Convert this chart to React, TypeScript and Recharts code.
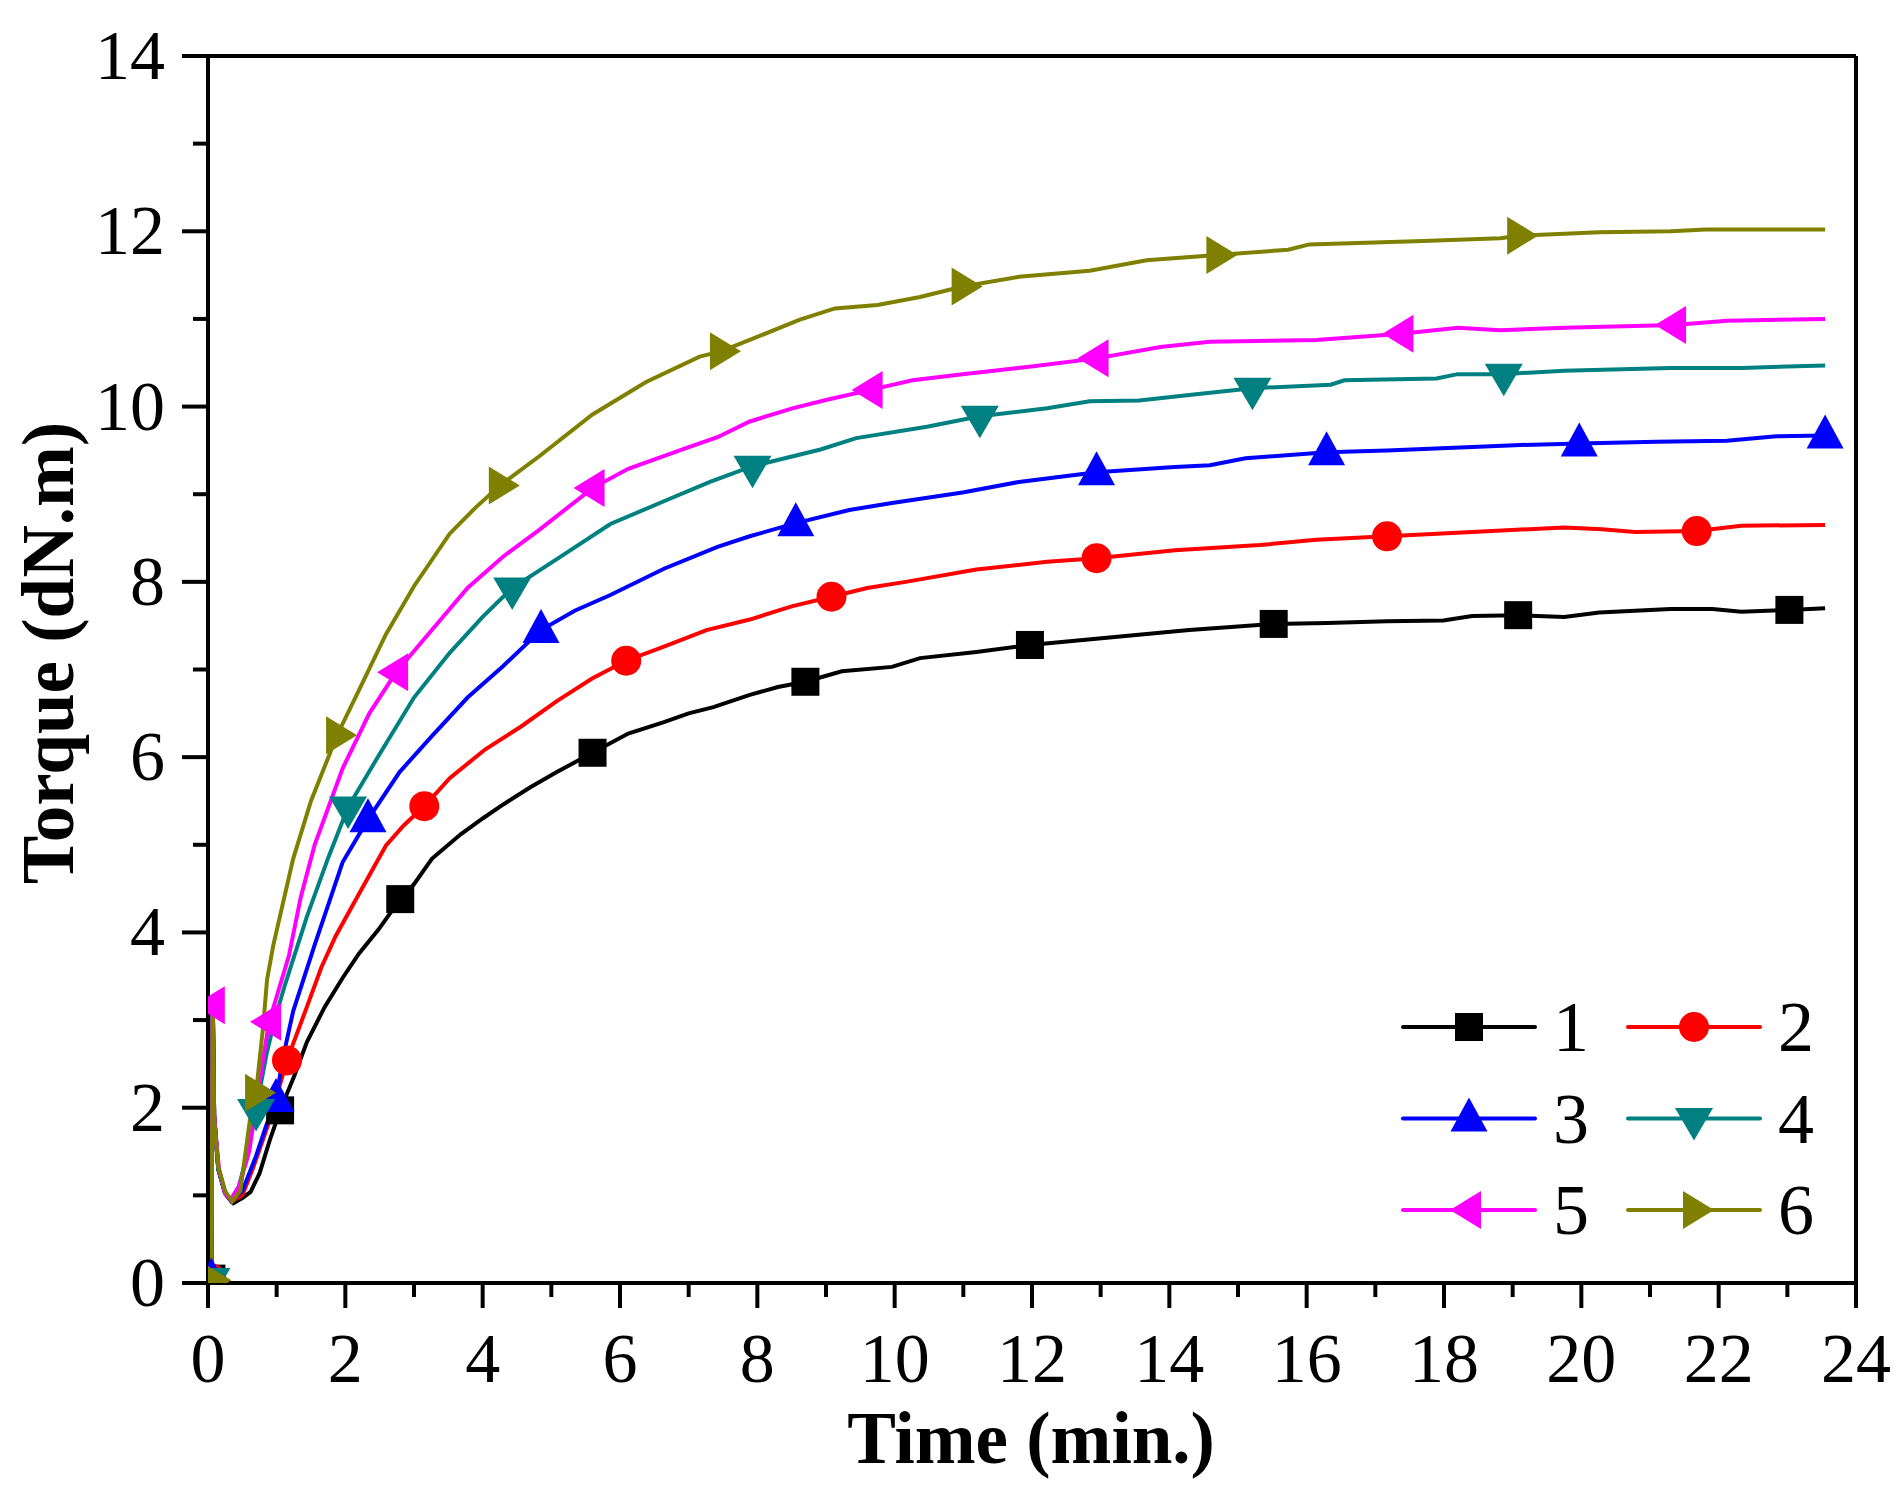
import React from 'react';
import { LineChart, Line, XAxis, YAxis, ReferenceLine, Customized } from 'recharts';

type P = [number, number, number?];

const FONT = "'Liberation Serif', 'Times New Roman', serif";

const xTicks = [0, 1, 2, 3, 4, 5, 6, 7, 8, 9, 10, 11, 12, 13, 14, 15, 16, 17, 18, 19, 20, 21, 22, 23, 24];
const yTicks = [0, 1, 2, 3, 4, 5, 6, 7, 8, 9, 10, 11, 12, 13, 14];
const xTitle = 'Time (min.)';
const yTitle = 'Torque (dN.m)';

// [time, torque, marker?]
const series1: P[] = [
  [0.05, 0.05, 1], [0.07, 3.2], [0.09, 1.9], [0.15, 1.3], [0.25, 1.02], [0.37, 0.91], [0.5, 0.97], [0.62, 1.04],
  [0.75, 1.25], [0.9, 1.63], [1.05, 1.97, 1], [1.25, 2.35], [1.44, 2.75], [1.7, 3.15], [1.96, 3.48], [2.2, 3.76],
  [2.48, 4.03], [2.8, 4.38, 1], [3.0, 4.55], [3.26, 4.84], [3.68, 5.12], [4.0, 5.3], [4.3, 5.46], [4.7, 5.66],
  [5.08, 5.83], [5.6, 6.05, 1], [6.12, 6.27], [6.64, 6.4], [7.0, 6.5], [7.36, 6.57], [7.89, 6.71], [8.3, 6.8],
  [8.7, 6.86, 1], [9.23, 6.98], [9.96, 7.03], [10.37, 7.13], [11.19, 7.2], [11.97, 7.28, 1], [13.05, 7.36],
  [14.29, 7.45], [15.0, 7.49], [15.52, 7.52, 1], [16.3, 7.53], [17.17, 7.55], [17.99, 7.56], [18.41, 7.61],
  [19.08, 7.62, 1], [19.75, 7.6], [20.26, 7.65], [21.3, 7.69], [21.91, 7.69], [22.33, 7.66], [23.03, 7.68, 1],
  [23.55, 7.7],
];

const series2: P[] = [
  [0.05, 0.05, 1], [0.07, 3.2], [0.09, 1.9], [0.15, 1.3], [0.25, 1.02], [0.34, 0.93], [0.5, 1.0], [0.66, 1.32],
  [0.9, 1.86], [1.15, 2.54, 1], [1.44, 3.15], [1.65, 3.6], [1.86, 3.96], [2.22, 4.47], [2.59, 4.99], [2.85, 5.22],
  [3.15, 5.44, 1], [3.52, 5.76], [4.04, 6.09], [4.56, 6.35], [5.08, 6.64], [5.6, 6.9], [6.09, 7.1, 1], [6.64, 7.26],
  [7.26, 7.45], [7.89, 7.57], [8.5, 7.72], [9.08, 7.83, 1], [9.6, 7.93], [10.16, 8.0], [11.19, 8.14], [12.22, 8.23],
  [12.94, 8.27, 1], [14.08, 8.36], [15.32, 8.42], [16.14, 8.48], [17.17, 8.52, 1], [18.41, 8.57], [19.75, 8.62],
  [20.3, 8.6], [20.78, 8.57], [21.68, 8.58, 1], [22.33, 8.64], [23.55, 8.65],
];

const series3: P[] = [
  [0.05, 0.05, 1], [0.07, 3.2], [0.09, 1.9], [0.15, 1.3], [0.25, 1.02], [0.34, 0.93], [0.5, 1.05], [0.7, 1.45],
  [0.85, 1.8], [0.99, 2.1, 1], [1.1, 2.6], [1.24, 3.1], [1.55, 3.85], [1.96, 4.8], [2.33, 5.29, 1], [2.79, 5.83],
  [3.26, 6.24], [3.78, 6.68], [4.3, 7.04], [4.85, 7.45, 1], [5.34, 7.67], [5.86, 7.85], [6.64, 8.15], [7.42, 8.4],
  [7.89, 8.52], [8.56, 8.67, 1], [9.34, 8.82], [9.96, 8.9], [10.99, 9.02], [11.81, 9.14], [12.94, 9.25, 1],
  [14.08, 9.31], [14.59, 9.33], [15.11, 9.41], [16.29, 9.48, 1], [17.17, 9.5], [19.03, 9.56], [19.97, 9.58, 1],
  [21.09, 9.6], [22.12, 9.61], [22.84, 9.66], [23.55, 9.67, 1],
];

const series4: P[] = [
  [0.05, 0.05, 1], [0.07, 3.2], [0.09, 1.9], [0.15, 1.3], [0.25, 1.02], [0.33, 0.95], [0.45, 1.1], [0.58, 1.5],
  [0.7, 1.98, 1], [0.85, 2.6], [0.97, 3.0], [1.12, 3.4], [1.44, 4.18], [1.75, 4.85], [2.04, 5.43, 1], [2.48, 6.01],
  [3.0, 6.68], [3.52, 7.19], [4.0, 7.6], [4.43, 7.93, 1], [5.08, 8.26], [5.86, 8.66], [6.64, 8.92], [7.31, 9.14],
  [7.93, 9.32, 1], [8.92, 9.51], [9.44, 9.64], [10.47, 9.77], [11.24, 9.89, 1], [12.22, 9.98], [12.84, 10.06],
  [13.56, 10.07], [14.39, 10.14], [15.21, 10.21, 1], [16.35, 10.25], [16.55, 10.3], [17.89, 10.32], [18.2, 10.37],
  [18.87, 10.37, 1], [19.75, 10.41], [21.3, 10.44], [22.33, 10.44], [23.55, 10.47],
];

const series5: P[] = [
  [0.04, 0.05], [0.07, 3.17, 1], [0.09, 1.9], [0.16, 1.3], [0.25, 1.02], [0.33, 0.95], [0.45, 1.1], [0.6, 1.5],
  [0.75, 2.3], [0.89, 2.98, 1], [1.18, 3.74], [1.35, 4.4], [1.55, 4.99], [1.96, 5.87], [2.35, 6.5], [2.74, 6.97, 1],
  [3.26, 7.45], [3.78, 7.93], [4.3, 8.29], [4.82, 8.59], [5.6, 9.07, 1], [6.12, 9.29], [6.9, 9.51], [7.42, 9.65],
  [7.89, 9.83], [8.51, 9.98], [9.03, 10.08], [9.65, 10.19, 1], [10.26, 10.3], [10.99, 10.37], [12.02, 10.46],
  [12.94, 10.55, 1], [13.87, 10.68], [14.59, 10.74], [16.14, 10.76], [17.38, 10.83, 1], [18.2, 10.9], [18.82, 10.87],
  [19.75, 10.9], [21.35, 10.93, 1], [22.12, 10.98], [23.55, 11.0],
];

const series6: P[] = [
  [0.05, 0.03, 1], [0.07, 3.23], [0.08, 1.94], [0.15, 1.33], [0.25, 1.05], [0.35, 0.93], [0.47, 1.05], [0.61, 1.86],
  [0.7, 2.17, 1], [0.8, 2.9], [0.86, 3.46], [0.95, 3.85], [1.24, 4.84], [1.5, 5.5], [1.88, 6.25, 1], [2.22, 6.8],
  [2.59, 7.4], [3.0, 7.95], [3.52, 8.55], [3.9, 8.85], [4.25, 9.1, 1], [4.82, 9.43], [5.6, 9.91], [6.38, 10.28],
  [7.16, 10.57], [7.47, 10.63, 1], [7.89, 10.76], [8.61, 10.99], [9.13, 11.12], [9.75, 11.16], [10.37, 11.25],
  [10.99, 11.37, 1], [11.81, 11.48], [12.84, 11.55], [13.67, 11.67], [14.7, 11.73, 1], [15.73, 11.79], [16.04, 11.85],
  [17.69, 11.89], [18.82, 11.92], [19.08, 11.95, 1], [20.26, 11.99], [21.3, 12.0], [21.81, 12.02], [23.55, 12.02],
];

const names = ['1', '2', '3', '4', '5', '6'];
const colors = ['#000000', '#FF0000', '#0000FF', '#008080', '#FF00FF', '#808000'];
const shapes = ['square', 'circle', 'up', 'down', 'left', 'right'];
const allSeries = [series1, series2, series3, series4, series5, series6];

const SERIES = names.map((name, i) => ({
  name,
  color: colors[i],
  shape: shapes[i],
  data: allSeries[i].map(([t, v, m]) => ({ t, v, m: m ? 1 : 0 })),
}));

const Marker = ({ cx, cy, shape, color }: { cx: number; cy: number; shape: string; color: string }) => {
  switch (shape) {
    case 'square':
      return <rect x={cx - 14} y={cy - 14} width={28} height={28} fill={color} />;
    case 'circle':
      return <circle cx={cx} cy={cy} r={15} fill={color} />;
    case 'up':
      return <polygon points={`${cx},${cy - 21} ${cx + 18.5},${cy + 13} ${cx - 18.5},${cy + 13}`} fill={color} />;
    case 'down':
      return <polygon points={`${cx - 19},${cy - 10.5} ${cx + 19},${cy - 10.5} ${cx},${cy + 22}`} fill={color} />;
    case 'left':
      return <polygon points={`${cx - 19},${cy} ${cx + 12},${cy - 19} ${cx + 12},${cy + 19}`} fill={color} />;
    default:
      return <polygon points={`${cx + 20},${cy} ${cx - 11},${cy - 19} ${cx - 11},${cy + 19}`} fill={color} />;
  }
};

const makeDot = (shape: string, color: string) => (props: any) => {
  const { cx, cy, payload, index } = props;
  if (!payload || !payload.m || cx == null || cy == null) return <g key={`e-${index}`} />;
  return (
    <g key={`m-${index}`}>
      <Marker cx={cx} cy={cy} shape={shape} color={color} />
    </g>
  );
};

const XTick = (props: any) => {
  const { x, y, payload } = props;
  const v = payload.value;
  const major = v % 2 === 0;
  return (
    <g>
      <line x1={x} x2={x} y1={y} y2={y + (major ? 25 : 14)} stroke="#000" strokeWidth={4} />
      {major && (
        <text x={x} y={y + 99} textAnchor="middle" fontFamily={FONT} fontSize={70} fill="#000">
          {v}
        </text>
      )}
    </g>
  );
};

const YTick = (props: any) => {
  const { x, y, payload } = props;
  const v = payload.value;
  const major = v % 2 === 0;
  return (
    <g>
      <line x1={x - (major ? 26 : 15)} x2={x} y1={y} y2={y} stroke="#000" strokeWidth={4} />
      {major && (
        <text x={x - 43} y={y + 23} textAnchor="end" fontFamily={FONT} fontSize={70} fill="#000">
          {v}
        </text>
      )}
    </g>
  );
};

const Overlay = () => (
  <g>
    <text x={1031} y={1463} textAnchor="middle" fontFamily={FONT} fontWeight="bold" fontSize={73} fill="#000">
      {xTitle}
    </text>
    <text
      x={73}
      y={653}
      textAnchor="middle"
      transform="rotate(-90 73 653)"
      fontFamily={FONT}
      fontWeight="bold"
      fontSize={73}
      fill="#000"
    >
      {yTitle}
    </text>
    {SERIES.map((s, i) => {
      const col = i % 2;
      const row = Math.floor(i / 2);
      const lx = col === 0 ? 1403 : 1628;
      const ly = 1027 + row * 91.5;
      return (
        <g key={s.name}>
          <line x1={lx} x2={lx + 132} y1={ly} y2={ly} stroke={s.color} strokeWidth={4} strokeLinecap="round" />
          <Marker cx={lx + 66} cy={ly} shape={s.shape} color={s.color} />
          <text x={lx + 150} y={ly + 24} fontFamily={FONT} fontSize={72} fill="#000">
            {s.name}
          </text>
        </g>
      );
    })}
  </g>
);

export default function App() {
  return (
    <div style={{ position: 'absolute', left: 0, top: 0, width: 1901, height: 1488, background: '#fff' }}>
      <LineChart width={1901} height={1488} margin={{ top: 56, right: 45, bottom: 0, left: 0 }}>
        <XAxis
          type="number"
          dataKey="t"
          domain={[0, 24]}
          ticks={xTicks}
          interval={0}
          tickSize={0}
          tickMargin={0}
          tick={<XTick />}
          axisLine={{ stroke: '#000', strokeWidth: 4 }}
          height={205}
          allowDataOverflow
        />
        <YAxis
          type="number"
          dataKey="v"
          domain={[0, 14]}
          ticks={yTicks}
          interval={0}
          tickSize={0}
          tickMargin={0}
          tick={<YTick />}
          axisLine={{ stroke: '#000', strokeWidth: 4 }}
          width={208}
          allowDataOverflow
        />
        <ReferenceLine y={14} stroke="#000" strokeWidth={4} />
        <ReferenceLine x={24} stroke="#000" strokeWidth={4} />
        {SERIES.map((s) => (
          <Line
            key={s.name}
            data={s.data}
            dataKey="v"
            name={s.name}
            type="linear"
            stroke={s.color}
            strokeWidth={4}
            dot={makeDot(s.shape, s.color)}
            activeDot={false}
            isAnimationActive={false}
          />
        ))}
        <Customized component={Overlay} />
      </LineChart>
    </div>
  );
}
